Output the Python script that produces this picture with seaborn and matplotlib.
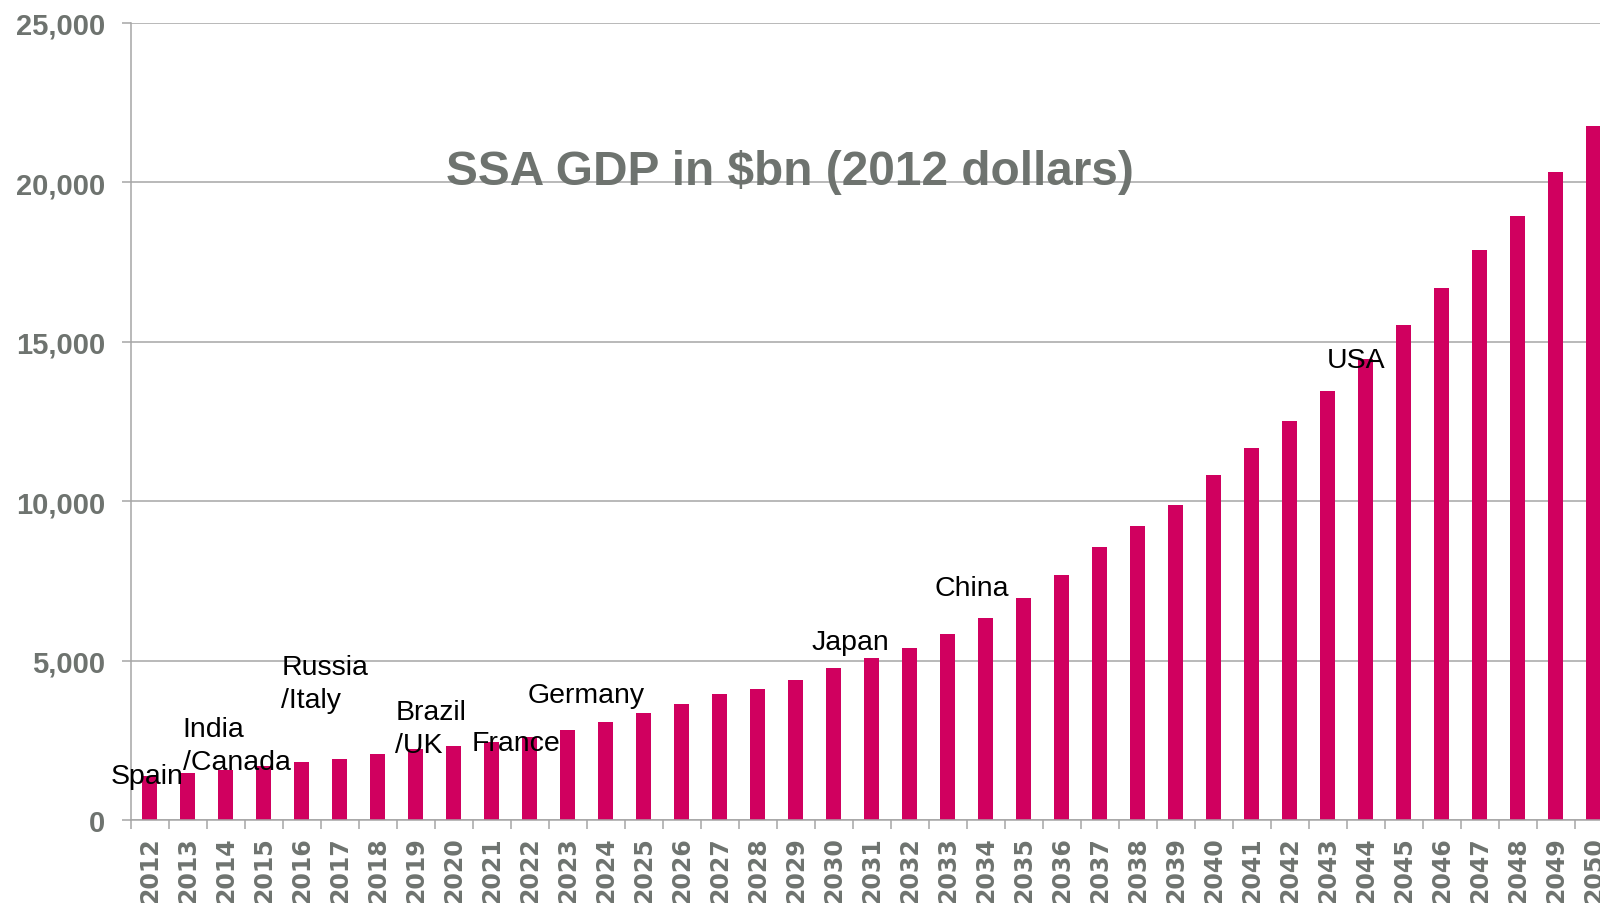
import matplotlib
matplotlib.use("Agg")
import matplotlib.pyplot as plt
import matplotlib.ticker as mticker
import numpy as np
import pandas as pd
import seaborn as sns

# Sub-Saharan Africa GDP projection, $bn in 2012 dollars
years = list(range(2012, 2051))
gdp_bn = [
    1390, 1474, 1578, 1694, 1819, 1913, 2070, 2217, 2321, 2447,
    2613, 2833, 3064, 3347, 3649, 3963, 4099, 4402, 4768, 5072,
    5406, 5845, 6348, 6953, 7680, 8553, 9212, 9871, 10822, 11669,
    12525, 13457, 14460, 15537, 16688, 17890, 18956, 20326, 21769,
]

# Economies overtaken along the way (one list entry per text line)
milestone_lines = ["Spain", "India", "/Canada", "Russia", "/Italy", "Brazil",
                   "/UK", "France", "Germany", "Japan", "China", "USA"]
# left edge (category units) and baseline (data units) of each line
milestone_x = [-1.02, 0.87, 0.87, 3.48, 3.45, 6.48, 6.45, 8.48, 9.93, 17.42, 20.66, 30.98]
milestone_y = [1160, 2635, 1600, 4580, 3545, 3170, 2135, 2195, 3700, 5365, 7060, 14210]

title = "SSA GDP in $bn (2012 dollars)"

BAR = "#D0005F"
GREY_TXT = "#6E736F"
GRID = "#A6A6A6"

sns.set_theme(style="white")
plt.rcParams["font.family"] = ["Liberation Sans", "DejaVu Sans"]

df = pd.DataFrame({"year": [str(y) for y in years], "gdp": gdp_bn})

W, H = 1600, 904
fig = plt.figure(figsize=(W / 100, H / 100), dpi=100)
fig.patch.set_facecolor("white")
# the plot area runs past the right edge of the canvas
ax = fig.add_axes([130.8 / W, (H - 821) / H, 39 * 38 / W, 797 / H])

sns.barplot(data=df, x="year", y="gdp", color=BAR, saturation=1,
            width=0.4, linewidth=0, ax=ax)

ax.set_xlim(-0.5, len(years) - 0.5)
ax.set_ylim(0, 25000)
ax.set_xlabel("")
ax.set_ylabel("")

# grid and spines
ax.set_axisbelow(True)
ax.yaxis.grid(True, color=GRID, linewidth=1.1)
ax.xaxis.grid(False)
for side in ("top", "right"):
    ax.spines[side].set_visible(False)
for side in ("left", "bottom"):
    ax.spines[side].set_color(GRID)
    ax.spines[side].set_linewidth(1.1)

# y axis
ax.yaxis.set_major_locator(mticker.MultipleLocator(5000))
ax.yaxis.set_major_formatter(mticker.FuncFormatter(lambda v, p: f"{v:,.0f}"))
ax.tick_params(axis="y", which="major", direction="out", length=6.5, width=1.1,
               color=GRID, pad=12, labelsize=21, labelcolor=GREY_TXT, left=True)
for lab in ax.get_yticklabels():
    lab.set_fontweight("bold")

# x axis: labels at category centres, tick marks between categories
ax.set_xticks(np.arange(len(years)))
ax.set_xticklabels([str(y) for y in years], rotation=90, fontweight="bold",
                   family="DejaVu Sans", fontsize=17, color=GREY_TXT)
ax.set_xticks(np.arange(len(years) + 1) - 0.5, minor=True)
ax.tick_params(axis="x", which="major", length=0, pad=11.5, bottom=True)
ax.tick_params(axis="x", which="minor", direction="out", length=6.5, width=1.1,
               color=GRID, bottom=True)

# milestone labels
for txt, x, y in zip(milestone_lines, milestone_x, milestone_y):
    ax.text(x, y, txt, ha="left", va="baseline", fontsize=20.5, color="black",
            zorder=5, clip_on=False)

# chart title
fig.text(790 / W, 1 - 185 / H, title, ha="center", va="baseline",
         fontsize=34.4, fontweight="bold", color=GREY_TXT)

fig.savefig("out.png", dpi=100)
